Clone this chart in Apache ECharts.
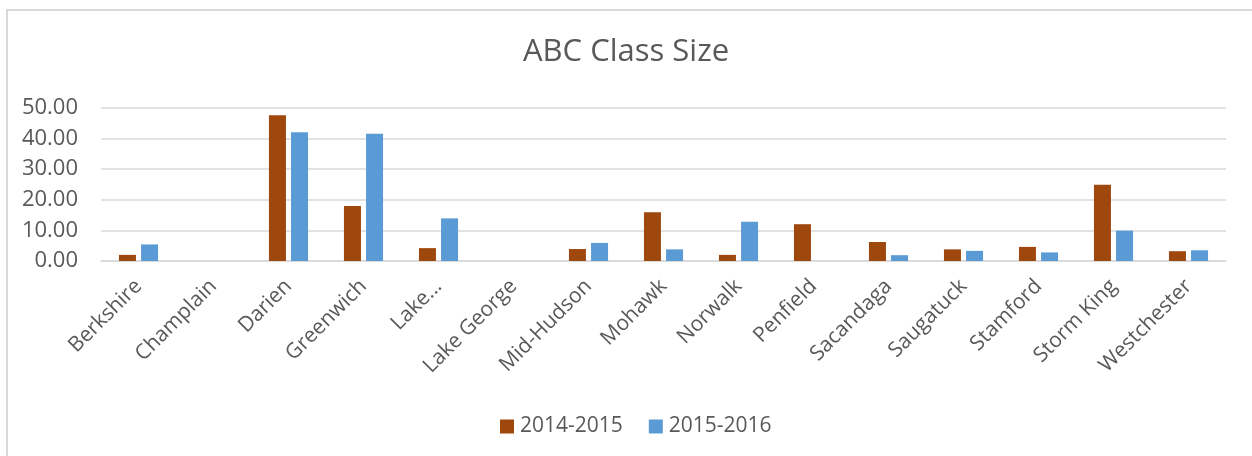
<!DOCTYPE html>
<html>
<head>
<meta charset="utf-8">
<script src="https://cdn.jsdelivr.net/npm/echarts@6/dist/echarts.min.js"></script>
<style>
html,body{margin:0;padding:0;background:#fff;}
#chart{width:1252px;height:456px;}
</style>
</head>
<body>
<div id="chart"></div>
<script>
const categories = ['Berkshire','Champlain','Darien','Greenwich','Lake...','Lake George','Mid-Hudson','Mohawk','Norwalk','Penfield','Sacandaga','Saugatuck','Stamford','Storm King','Westchester'];
const seriesNames = ['2014-2015','2015-2016'];
const values2014 = [2.0, null, 47.5, 17.9, 4.2, null, 3.9, 15.9, 2.0, 12.0, 6.2, 3.8, 4.6, 24.9, 3.2];
const values2015 = [5.4, null, 42.0, 41.5, 13.9, null, 5.9, 3.8, 12.8, null, 1.9, 3.3, 2.8, 9.9, 3.5];
const yTicks = [0, 10, 20, 30, 40, 50];

const FONT = '"Open Sans", sans-serif';
const TXT = '#595959';
const chart = echarts.init(document.getElementById('chart'));
chart.setOption({
  animation: false,
  backgroundColor: '#ffffff',
  graphic: [{
    type: 'rect', silent: true, z: -10,
    shape: { x: 7, y: 10, width: 1400, height: 600 },
    style: { fill: 'none', stroke: '#d9d9d9', lineWidth: 2 }
  }],
  title: {
    text: 'ABC Class Size', left: 'center', top: 37, padding: 0,
    textStyle: { fontFamily: FONT, fontSize: 31, fontWeight: 'normal', color: TXT }
  },
  legend: {
    data: seriesNames, top: 416, left: 500, padding: 0,
    itemWidth: 14, itemHeight: 14, itemGap: 26, icon: 'rect',
    textStyle: { fontFamily: FONT, fontSize: 21, color: TXT, padding: [0, 0, 0, 1] }
  },
  grid: { left: 101, right: 26, top: 107.7, bottom: 195, containLabel: false },
  xAxis: {
    type: 'category', data: categories,
    axisLine: { show: true, lineStyle: { color: '#d9d9d9', width: 1.5 } },
    axisTick: { show: false },
    axisLabel: { interval: 0, rotate: 45, margin: 22, fontFamily: FONT, fontSize: 21, color: TXT }
  },
  yAxis: {
    type: 'value', min: yTicks[0], max: yTicks[yTicks.length - 1], interval: 10,
    axisLine: { show: false }, axisTick: { show: false },
    splitLine: { lineStyle: { color: '#d9d9d9', width: 1.5 } },
    axisLabel: { margin: 23, fontFamily: FONT, fontSize: 22, color: TXT, formatter: v => v.toFixed(2) }
  },
  series: [
    { name: seriesNames[0], type: 'bar', data: values2014, barWidth: 17, barGap: '30%', itemStyle: { color: '#9E480E' } },
    { name: seriesNames[1], type: 'bar', data: values2015, barWidth: 17, barGap: '30%', itemStyle: { color: '#5B9BD5' } }
  ]
});
</script>
</body>
</html>
